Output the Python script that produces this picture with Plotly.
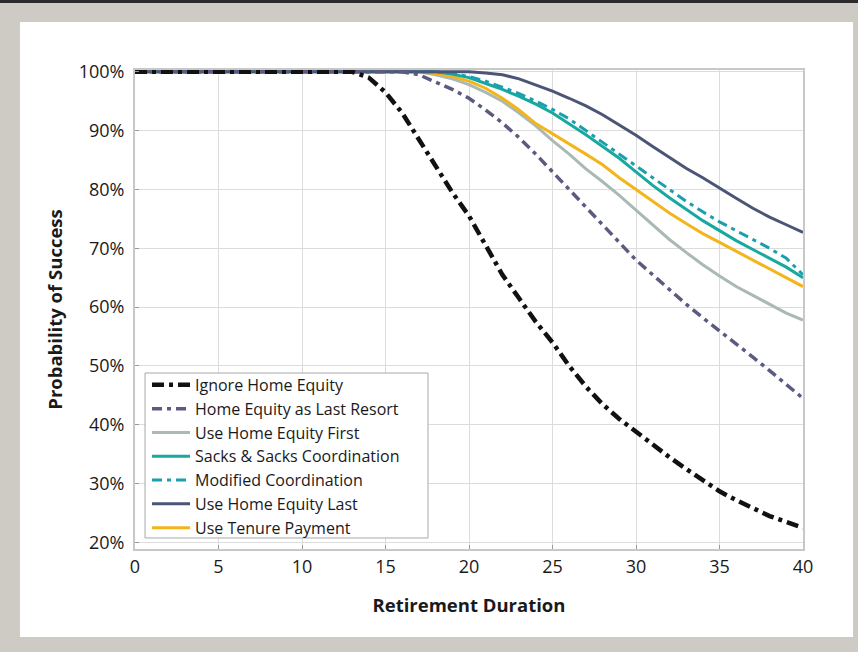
import plotly.graph_objects as go

years = list(range(0, 41))

ignore_home_equity = [100]*14 + [99.0, 96.5, 93.0, 88.5, 84.0, 79.5, 75.5, 70.5, 65.5, 61.5, 57.5, 54.0,
                              50.0, 46.5, 43.5, 41.0, 38.8, 36.5, 34.5, 32.5, 30.5, 28.7, 27.2, 25.8, 24.5, 23.5, 22.5]
last_resort = [100]*17 + [99.5, 98.3, 97.0, 95.5, 93.5, 91.3, 88.8, 86.0, 83.0, 80.0, 77.0, 74.0, 71.0,
                          68.0, 65.5, 63.0, 60.5, 58.2, 56.0, 53.8, 51.5, 49.2, 46.8, 44.5]
equity_first = [100]*18 + [99.5, 98.8, 97.8, 96.5, 95.0, 93.0, 90.8, 88.3, 86.0, 83.5, 81.3, 79.0,
                           76.5, 74.0, 71.5, 69.3, 67.2, 65.3, 63.5, 62.0, 60.5, 59.0, 57.8]
sacks_coordination = [100]*19 + [99.6, 99.0, 98.0, 97.0, 95.8, 94.5, 93.0, 91.2, 89.3, 87.3, 85.3,
                                 83.0, 80.7, 78.6, 76.6, 74.7, 73.0, 71.3, 69.8, 68.3, 66.8, 65.0]
modified_coordination = [100]*19 + [99.7, 99.2, 98.4, 97.4, 96.3, 95.0, 93.6, 92.0, 90.0, 88.0, 86.0,
                                    84.0, 82.0, 80.0, 78.0, 76.2, 74.5, 73.0, 71.5, 70.0, 68.3, 65.5]
equity_last = [100]*21 + [99.8, 99.5, 98.8, 97.8, 96.7, 95.5, 94.2, 92.7, 91.0, 89.2, 87.3, 85.5,
                          83.6, 82.0, 80.2, 78.5, 76.8, 75.3, 74.0, 72.7]
tenure_payment = [100]*18 + [99.7, 99.2, 98.4, 97.2, 95.5, 93.5, 91.2, 89.5, 87.8, 86.0, 84.2, 82.0,
                             80.0, 78.0, 76.0, 74.2, 72.5, 71.0, 69.5, 68.0, 66.5, 65.0, 63.5]

series = [
    ("Ignore Home Equity", ignore_home_equity, "#111111", 4.5, "12px,5px,4px,5px"),
    ("Home Equity as Last Resort", last_resort, "#5b5b82", 3.5, "10px,5px,4px,5px"),
    ("Use Home Equity First", equity_first, "#aab9b1", 3, "solid"),
    ("Sacks & Sacks Coordination", sacks_coordination, "#17a8a0", 3, "solid"),
    ("Modified Coordination", modified_coordination, "#1a9fae", 3, "10px,5px,4px,5px"),
    ("Use Home Equity Last", equity_last, "#4b5677", 3, "solid"),
    ("Use Tenure Payment", tenure_payment, "#f4b41c", 3, "solid"),
]

x_ticks = [0, 5, 10, 15, 20, 25, 30, 35, 40]
y_ticks = [20, 30, 40, 50, 60, 70, 80, 90, 100]
y_tick_labels = ["20%", "30%", "40%", "50%", "60%", "70%", "80%", "90%", "100%"]

fig = go.Figure()
draw_order = [2, 6, 3, 4, 5, 1, 0]
for i in draw_order:
    name, vals, color, w, dash = series[i]
    fig.add_trace(go.Scatter(
        x=years, y=vals, mode="lines", name=name,
        line=dict(color=color, width=w, dash=dash),
        legendrank=i + 1,
    ))

FONT = "Open Sans"
fig.update_layout(
    width=858, height=652,
    margin=dict(l=135, r=55, t=70, b=103),
    paper_bgcolor="#cecac4",
    plot_bgcolor="white",
    font=dict(family=FONT, color="#1a1a1a", size=18),
    showlegend=True,
    legend=dict(
        x=0.018, y=0.378, xanchor="left", yanchor="top",
        bgcolor="rgba(0,0,0,0)", borderwidth=0,
        font=dict(family=FONT, size=16, color="#1a1a1a"),
        itemwidth=38,
    ),
    xaxis=dict(
        range=[0, 40], tickvals=x_ticks, ticktext=[str(v) for v in x_ticks],
        showgrid=True, gridcolor="#dcdcdc", gridwidth=1,
        showline=True, mirror=True, linecolor="#c8c8c8", linewidth=2,
        ticks="inside", ticklen=4, tickcolor="#9a9a9a",
        zeroline=False,
        title=dict(text="<b>Retirement Duration</b>", standoff=22, font=dict(size=18.5)),
    ),
    yaxis=dict(
        range=[18.9, 100.3], tickvals=y_ticks, ticktext=y_tick_labels,
        showgrid=True, gridcolor="#dcdcdc", gridwidth=1,
        showline=True, mirror=True, linecolor="#c8c8c8", linewidth=2,
        ticks="inside", ticklen=4, tickcolor="#9a9a9a",
        ticklabelstandoff=5,
        zeroline=False,
        title=dict(text="<b>Probability of Success</b>", standoff=11, font=dict(size=18.5)),
    ),
    shapes=[
        dict(type="rect", xref="paper", yref="paper", layer="below",
             x0=-0.1722, x1=1.0749, y0=-0.1837, y1=1.1002,
             fillcolor="white", line=dict(width=0)),
        dict(type="rect", xref="paper", yref="paper", layer="below",
             x0=-0.21, x1=1.09, y0=1.1399, y1=1.1462,
             fillcolor="#2b2b2b", line=dict(width=0)),
        dict(type="rect", xref="paper", yref="paper", layer="above",
             x0=0.015, x1=0.4386, y0=0.023, y1=0.3674,
             fillcolor="white", line=dict(width=1, color="#a8a8a8")),
    ],
)

fig.write_html(
    "out.html",
    config={"displayModeBar": False},
    post_script="document.body.style.margin='0';document.body.style.overflow='hidden';document.documentElement.style.overflow='hidden';",
)
